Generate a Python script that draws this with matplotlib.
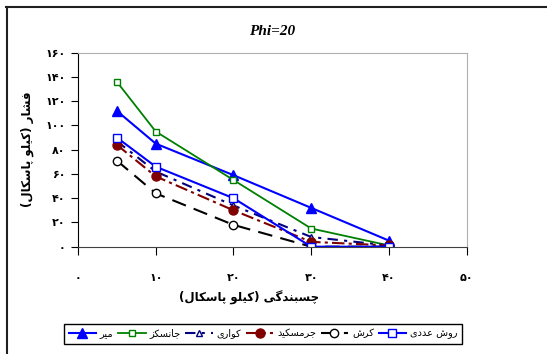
import numpy as np
import matplotlib.pyplot as plt
from matplotlib.lines import Line2D

# Data
x = [5, 10, 20, 30, 40]
numerical = [90, 66, 40, 0, 0]      # روش عددی
kersh = [71, 44, 18, 0, 0]          # کرش
jermaskid = [84, 58, 30, 4, 1]      # جرمسکید
kavari = [87, 62, 34, 8, 1]         # کواری
jalinks = [136, 95, 55, 15, 1]      # جانسکز
mir = [112, 85, 59, 32, 5]          # میر

xticks = [0, 10, 20, 30, 40, 50]
yticks = [0, 20, 40, 60, 80, 100, 120, 140, 160]

# simple Persian shaping: matplotlib has no bidi/joining support
FORMS = {
    '\u0627': (0xFE8D, 0xFE8E), '\u062F': (0xFEA9, 0xFEAA),
    '\u0631': (0xFEAD, 0xFEAE), '\u0632': (0xFEAF, 0xFEB0),
    '\u0648': (0xFEED, 0xFEEE),
    '\u0628': (0xFE8F, 0xFE90, 0xFE91, 0xFE92), '\u067E': (0xFB56, 0xFB57, 0xFB58, 0xFB59),
    '\u062C': (0xFE9D, 0xFE9E, 0xFE9F, 0xFEA0), '\u0686': (0xFB7A, 0xFB7B, 0xFB7C, 0xFB7D),
    '\u0633': (0xFEB1, 0xFEB2, 0xFEB3, 0xFEB4), '\u0634': (0xFEB5, 0xFEB6, 0xFEB7, 0xFEB8),
    '\u0639': (0xFEC9, 0xFECA, 0xFECB, 0xFECC), '\u0641': (0xFED1, 0xFED2, 0xFED3, 0xFED4),
    '\u06A9': (0xFB8E, 0xFB8F, 0xFB90, 0xFB91), '\u06AF': (0xFB92, 0xFB93, 0xFB94, 0xFB95),
    '\u0644': (0xFEDD, 0xFEDE, 0xFEDF, 0xFEE0), '\u0645': (0xFEE1, 0xFEE2, 0xFEE3, 0xFEE4),
    '\u0646': (0xFEE5, 0xFEE6, 0xFEE7, 0xFEE8), '\u06CC': (0xFBFC, 0xFBFD, 0xFBFE, 0xFBFF),
}


def fa(s):
    s = s.replace('\u0643', '\u06A9').replace('\u064A', '\u06CC')
    out = []
    for i, c in enumerate(s):
        if c not in FORMS:
            out.append({'(': ')', ')': '('}.get(c, c))
            continue
        f = FORMS[c]
        prev = i > 0 and len(FORMS.get(s[i - 1], ())) == 4
        nxt = len(f) == 4 and i + 1 < len(s) and s[i + 1] in FORMS
        if prev and nxt:
            k = 3
        elif prev:
            k = 1
        elif nxt:
            k = 2
        else:
            k = 0
        out.append(chr(f[k]))
    return ''.join(out[::-1])


def fa_num(n):
    return ''.join(chr(0x06F0 + int(d)) for d in str(n))


plt.rcParams['font.family'] = ['DejaVu Sans']

fig = plt.figure(figsize=(5.47, 3.54), dpi=100)
ax = fig.add_axes([78 / 547, 107.3 / 354, 388.7 / 547, 194 / 354])

ax.plot(x, mir, color='#0000FF', lw=1.5, marker='^', ms=7, mfc='#0000FF', mec='#0000FF', label=fa('میر'))
ax.plot(x, jalinks, color='#008000', lw=1.3, marker='s', ms=5, mfc='white', mec='#008000', label=fa('جانسکز'))
ax.plot(x, kavari, color='#000080', lw=1.5, ls=(0, (5, 3, 1.5, 3)), marker='^', ms=5, mfc='white', mec='#000080', label=fa('کواری'))
ax.plot(x, jermaskid, color='#800000', lw=1.5, ls=(0, (6, 2, 1.5, 2)), marker='o', ms=6.5, mfc='#800000', mec='#800000', label=fa('جرمسکید'))
ax.plot(x, kersh, color='black', lw=1.5, ls=(0, (7, 4)), marker='o', ms=6, mfc='white', mec='black', label=fa('کرش'))
ax.plot(x, numerical, color='#0000FF', lw=1.5, marker='s', ms=6, mfc='white', mec='#0000FF', label=fa('روش عددی'))

ax.set_xlim(0, 50)
ax.set_ylim(0, 160)
ax.set_xticks(xticks)
ax.set_xticklabels([fa_num(v) for v in xticks], fontweight='bold', fontsize=8)
ax.set_yticks(yticks)
ax.set_yticklabels([fa_num(v) for v in yticks], fontweight='bold', fontsize=8)
ax.tick_params(axis='x', direction='out', length=6, pad=13)
ax.tick_params(axis='y', direction='out', length=5, pad=4)

ax.spines['left'].set_color('black')
ax.spines['bottom'].set_color('#404040')
ax.spines['top'].set_color('#b0b0b0')
ax.spines['right'].set_color('#b0b0b0')

ax.set_title('Phi=20', family='Liberation Serif', fontweight='bold', style='italic', fontsize=11, pad=13)
ax.set_xlabel(fa('چسبندگی (کیلو پاسکال)'), fontweight='bold', fontsize=8.5)
ax.xaxis.set_label_coords(0.44, -0.225)
ax.set_ylabel(fa('فشار (کیلو پاسکال)'), fontweight='bold', fontsize=8.5, labelpad=8)

leg = fig.legend(loc='center', bbox_to_anchor=(263 / 547, 20 / 354), ncol=6, fontsize=7,
                 frameon=True, fancybox=False, edgecolor='black', framealpha=1,
                 handlelength=2.8, columnspacing=0.5, handletextpad=0.4, borderpad=0.5,
                 borderaxespad=0)
leg.get_frame().set_linewidth(1.0)

# outer chart frame (only left and top edges visible)
fig.add_artist(Line2D([6.5 / 547, 6.5 / 547], [0, 1 - 7 / 354], color='#202020', lw=1.5))
fig.add_artist(Line2D([6 / 547, 1], [1 - 7 / 354, 1 - 7 / 354], color='#202020', lw=1.5))

fig.savefig('out.png', dpi=100)
